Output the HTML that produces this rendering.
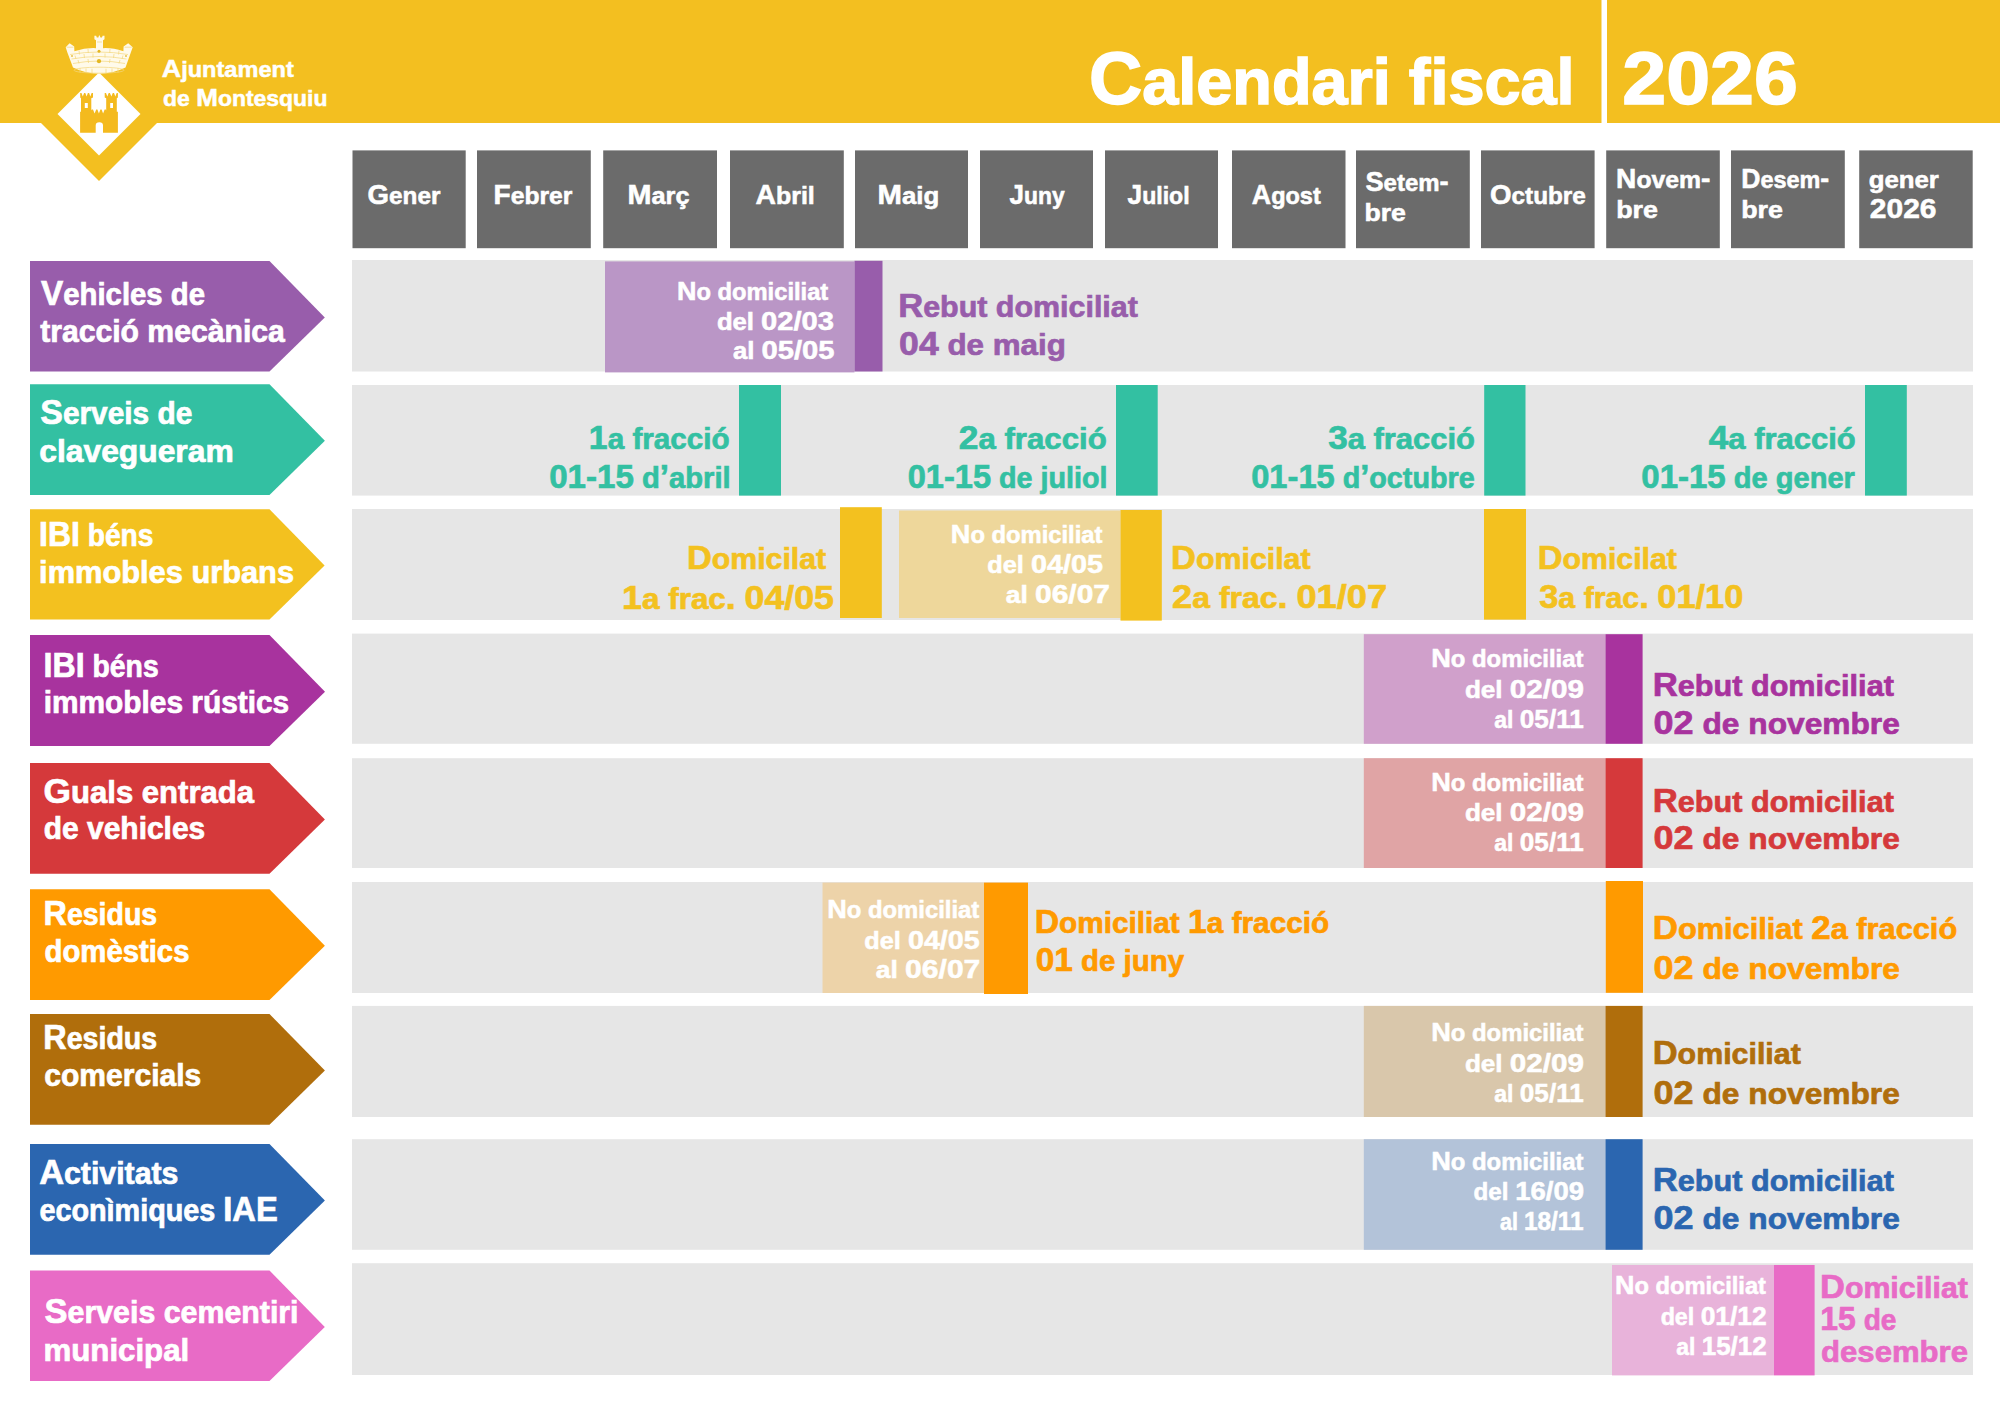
<!DOCTYPE html>
<html lang="ca"><head><meta charset="utf-8"><title>Calendari fiscal 2026 - Ajuntament de Montesquiu</title>
<style>
html,body{margin:0;padding:0;background:#fff;}
body{width:2000px;height:1414px;overflow:hidden;}
svg{display:block;}
text{font-family:"Liberation Sans",sans-serif;font-weight:bold;}
</style></head><body>
<svg width="2000" height="1414" viewBox="0 0 2000 1414">
<rect width="2000" height="1414" fill="#FFFFFF"/>
<rect x="0.0" y="0.0" width="2000.0" height="123.0" fill="#F3BF20"/>
<rect x="1601.5" y="0.0" width="5.5" height="123.0" fill="#FFFFFF"/>
<polygon points="99,47 166,114 99,181 32,114" fill="#F3BF20"/>
<polygon points="99,72.5 140.5,114 99,155.5 57.5,114" fill="#FFFFFF"/>
<path d="M80.1,132.7 L80.1,111.7 L81.0,111.7 L81.0,98.2 L80.2,97.4 L80.2,93.0 L81.5,93.0 L82.8,96.4 L84.1,93.0 L85.3,93.0 L86.6,96.4 L87.9,93.0 L89.1,93.0 L90.35,96.4 L91.6,93.0 L93.0,93.0 L93.0,97.4 L91.3,98.2 L91.3,110.5 L91.8,109.5 L93.0,109.5 L94.6,113.6 L96.2,109.5 L97.4,109.5 L98.9,113.6 L100.4,109.5 L101.6,109.5 L103.1,113.6 L104.65,109.5 L105.85,109.5 L106.2,110.5 L106.2,98.2 L104.7,97.4 L104.7,93.0 L106.0,93.0 L107.35,96.4 L108.7,93.0 L109.9,93.0 L111.35,96.4 L112.8,93.0 L114.0,93.0 L115.35,96.4 L116.7,93.0 L117.9,93.0 L117.9,97.4 L116.8,98.2 L116.8,111.7 L117.9,111.7 L117.9,132.7 L103.0,132.7 L103.0,125.5 Q103.0,122.2 99.35,122.2 Q95.7,122.2 95.7,125.5 L95.7,132.7 Z M84.8,102.9 L87.8,102.9 L87.8,108.1 L84.8,108.1 Z M110.2,102.9 L113.0,102.9 L113.0,108.1 L110.2,108.1 Z" fill="#F4BA1E" fill-rule="evenodd"/>
<path d="M65.7,47.2 L69.6,43.2 L74.2,46.6 L74.4,51.2 Q86,47.6 96,48.2 L96,40.2 L94.4,39.2 L94.4,35.8 L96.2,35.8 L96.8,37.4 L98.4,37.4 L99,35.6 L99.8,35.6 L100.4,37.4 L102,37.4 L102.6,35.8 L104.5,35.8 L104.5,39.2 L103,40.2 L103,48.2 Q112,47.6 123.4,51.2 L123.6,46.6 L128.2,43.2 L132.7,47.2 L131,52 L125.5,67.5 Q99,80 73,67.5 L67.2,52 Z" fill="#FFFAEA"/>
<g stroke="#F4D77C" stroke-width="0.7" fill="none"><path d="M70,54.5 Q99,49.5 128,54.5"/><path d="M71.5,59 Q99,54 126.5,59"/><path d="M73,63.5 Q99,58.5 125,63.5"/><ellipse cx="99" cy="70.2" rx="25" ry="3"/><path d="M79,50.5 L79.5,54.5 M88,49 L88.3,53 M110,49 L109.7,53 M119,50.5 L118.5,54.5 M75,55.5 L76,59 M84,54 L84.5,58 M93,53.5 L93,57.5 M105,53.5 L105,57.5 M114,54 L113.5,58 M123,55.5 L122,59 M78,60 L79,63.5 M88,59 L88.5,63 M110,59 L109.5,63 M120,60 L119,63.5"/><path d="M80,68 L80,72.5 M86,68.5 L86,73 M92,68.8 L92,73.2 M106,68.8 L106,73.2 M112,68.5 L112,73 M118,68 L118,72.5"/><path d="M66.5,47.2 L73.5,47.2 M97,42 L102,42 M124.5,47.2 L131.8,47.2"/></g>
<circle cx="99" cy="51.2" r="1.5" fill="#E4B722"/><circle cx="99" cy="61.2" r="2.1" fill="#E4B722"/>
<circle cx="72" cy="56" r="1" fill="#E9C24A"/><circle cx="126" cy="56" r="1" fill="#E9C24A"/>
<text x="161.83" y="76.80" fill="#FFFFFF" stroke="#FFFFFF" stroke-width="0.50" textLength="131.95" lengthAdjust="spacingAndGlyphs"><tspan font-size="24.42">A</tspan><tspan font-size="21.49">juntament</tspan></text>
<text x="163.06" y="105.80" fill="#FFFFFF" stroke="#FFFFFF" stroke-width="0.50" textLength="164.45" lengthAdjust="spacingAndGlyphs"><tspan font-size="21.49">de </tspan><tspan font-size="24.42">M</tspan><tspan font-size="21.49">ontesquiu</tspan></text>
<text x="1088.98" y="103.50" fill="#FFFFFF" stroke="#FFFFFF" stroke-width="1.53" textLength="485.61" lengthAdjust="spacingAndGlyphs"><tspan font-size="74.13">C</tspan><tspan font-size="65.23">alendari fiscal</tspan></text>
<text x="1622.26" y="103.50" fill="#FFFFFF" stroke="#FFFFFF" stroke-width="1.53" textLength="175.59" lengthAdjust="spacingAndGlyphs"><tspan font-size="74.13">2026</tspan></text>
<rect x="352.5" y="150.4" width="113.2" height="97.8" fill="#6B6B6B"/>
<rect x="477.0" y="150.4" width="113.8" height="97.8" fill="#6B6B6B"/>
<rect x="603.2" y="150.4" width="113.8" height="97.8" fill="#6B6B6B"/>
<rect x="730.0" y="150.4" width="113.8" height="97.8" fill="#6B6B6B"/>
<rect x="855.0" y="150.4" width="113.0" height="97.8" fill="#6B6B6B"/>
<rect x="980.0" y="150.4" width="113.0" height="97.8" fill="#6B6B6B"/>
<rect x="1105.0" y="150.4" width="113.0" height="97.8" fill="#6B6B6B"/>
<rect x="1232.0" y="150.4" width="113.5" height="97.8" fill="#6B6B6B"/>
<rect x="1356.0" y="150.4" width="113.8" height="97.8" fill="#6B6B6B"/>
<rect x="1481.0" y="150.4" width="113.6" height="97.8" fill="#6B6B6B"/>
<rect x="1606.2" y="150.4" width="113.6" height="97.8" fill="#6B6B6B"/>
<rect x="1731.0" y="150.4" width="113.8" height="97.8" fill="#6B6B6B"/>
<rect x="1859.2" y="150.4" width="113.5" height="97.8" fill="#6B6B6B"/>
<text x="367.62" y="203.75" fill="#FFFFFF" stroke="#FFFFFF" stroke-width="0.57" textLength="72.75" lengthAdjust="spacingAndGlyphs"><tspan font-size="27.62">G</tspan><tspan font-size="24.30">ener</tspan></text>
<text x="493.63" y="203.75" fill="#FFFFFF" stroke="#FFFFFF" stroke-width="0.57" textLength="78.75" lengthAdjust="spacingAndGlyphs"><tspan font-size="27.62">F</tspan><tspan font-size="24.30">ebrer</tspan></text>
<text x="627.58" y="203.75" fill="#FFFFFF" stroke="#FFFFFF" stroke-width="0.57" textLength="61.91" lengthAdjust="spacingAndGlyphs"><tspan font-size="27.62">M</tspan><tspan font-size="24.30">arç</tspan></text>
<text x="755.54" y="203.75" fill="#FFFFFF" stroke="#FFFFFF" stroke-width="0.57" textLength="59.22" lengthAdjust="spacingAndGlyphs"><tspan font-size="27.62">A</tspan><tspan font-size="24.30">bril</tspan></text>
<text x="877.54" y="203.75" fill="#FFFFFF" stroke="#FFFFFF" stroke-width="0.57" textLength="61.69" lengthAdjust="spacingAndGlyphs"><tspan font-size="27.62">M</tspan><tspan font-size="24.30">aig</tspan></text>
<text x="1009.61" y="203.75" fill="#FFFFFF" stroke="#FFFFFF" stroke-width="0.57" textLength="55.02" lengthAdjust="spacingAndGlyphs"><tspan font-size="27.62">J</tspan><tspan font-size="24.30">uny</tspan></text>
<text x="1127.60" y="203.75" fill="#FFFFFF" stroke="#FFFFFF" stroke-width="0.57" textLength="62.03" lengthAdjust="spacingAndGlyphs"><tspan font-size="27.62">J</tspan><tspan font-size="24.30">uliol</tspan></text>
<text x="1251.83" y="203.75" fill="#FFFFFF" stroke="#FFFFFF" stroke-width="0.57" textLength="68.95" lengthAdjust="spacingAndGlyphs"><tspan font-size="27.62">A</tspan><tspan font-size="24.30">gost</tspan></text>
<text x="1490.12" y="203.75" fill="#FFFFFF" stroke="#FFFFFF" stroke-width="0.57" textLength="95.71" lengthAdjust="spacingAndGlyphs"><tspan font-size="27.62">O</tspan><tspan font-size="24.30">ctubre</tspan></text>
<text x="1365.47" y="191.25" fill="#FFFFFF" stroke="#FFFFFF" stroke-width="0.57" textLength="83.12" lengthAdjust="spacingAndGlyphs"><tspan font-size="27.62">S</tspan><tspan font-size="24.30">etem</tspan><tspan font-size="27.62">-</tspan></text>
<text x="1364.50" y="220.75" fill="#FFFFFF" stroke="#FFFFFF" stroke-width="0.57" textLength="41.41" lengthAdjust="spacingAndGlyphs"><tspan font-size="24.30">bre</tspan></text>
<text x="1616.12" y="188.00" fill="#FFFFFF" stroke="#FFFFFF" stroke-width="0.57" textLength="94.26" lengthAdjust="spacingAndGlyphs"><tspan font-size="27.62">N</tspan><tspan font-size="24.30">ovem</tspan><tspan font-size="27.62">-</tspan></text>
<text x="1616.23" y="217.50" fill="#FFFFFF" stroke="#FFFFFF" stroke-width="0.57" textLength="41.68" lengthAdjust="spacingAndGlyphs"><tspan font-size="24.30">bre</tspan></text>
<text x="1741.22" y="188.00" fill="#FFFFFF" stroke="#FFFFFF" stroke-width="0.57" textLength="87.84" lengthAdjust="spacingAndGlyphs"><tspan font-size="27.62">D</tspan><tspan font-size="24.30">esem</tspan><tspan font-size="27.62">-</tspan></text>
<text x="1741.23" y="217.50" fill="#FFFFFF" stroke="#FFFFFF" stroke-width="0.57" textLength="41.68" lengthAdjust="spacingAndGlyphs"><tspan font-size="24.30">bre</tspan></text>
<text x="1868.74" y="188.20" fill="#FFFFFF" stroke="#FFFFFF" stroke-width="0.57" textLength="70.15" lengthAdjust="spacingAndGlyphs"><tspan font-size="24.30">gener</tspan></text>
<text x="1869.86" y="218.00" fill="#FFFFFF" stroke="#FFFFFF" stroke-width="0.57" textLength="66.62" lengthAdjust="spacingAndGlyphs"><tspan font-size="27.62">2026</tspan></text>
<rect x="352.0" y="260.0" width="1621.0" height="111.5" fill="#E6E6E6"/>
<rect x="352.0" y="385.0" width="1621.0" height="110.6" fill="#E6E6E6"/>
<rect x="352.0" y="509.0" width="1621.0" height="111.0" fill="#E6E6E6"/>
<rect x="352.0" y="633.6" width="1621.0" height="110.2" fill="#E6E6E6"/>
<rect x="352.0" y="758.2" width="1621.0" height="109.8" fill="#E6E6E6"/>
<rect x="352.0" y="882.0" width="1621.0" height="111.0" fill="#E6E6E6"/>
<rect x="352.0" y="1005.9" width="1621.0" height="111.1" fill="#E6E6E6"/>
<rect x="352.0" y="1139.2" width="1621.0" height="110.6" fill="#E6E6E6"/>
<rect x="352.0" y="1263.2" width="1621.0" height="111.8" fill="#E6E6E6"/>
<polygon points="30,261 269.5,261 324.8,317.5 269.5,371.6 30,371.6" fill="#985DAB"/>
<polygon points="30,384.3 269.5,384.3 324.9,440.8 269.5,495 30,495" fill="#33C0A2"/>
<polygon points="30,509.2 269.5,509.2 324.6,565.6 269.5,619.5 30,619.5" fill="#F3C11F"/>
<polygon points="30,635 269.5,635 325.0,691.7 269.5,746 30,746" fill="#A8339E"/>
<polygon points="30,763 269.5,763 324.9,819.6 269.5,873.8 30,873.8" fill="#D5393B"/>
<polygon points="30,889.2 269.5,889.2 324.9,945.8 269.5,1000 30,1000" fill="#FF9A00"/>
<polygon points="30,1014 269.5,1014 324.9,1070.5 269.5,1124.7 30,1124.7" fill="#B06E0C"/>
<polygon points="30,1144 269.5,1144 324.9,1200.6 269.5,1254.8 30,1254.8" fill="#2B66B0"/>
<polygon points="30,1270.4 269.5,1270.4 324.8,1326.9 269.5,1381 30,1381" fill="#E86BC6"/>
<text x="41.02" y="305.25" fill="#FFFFFF" stroke="#FFFFFF" stroke-width="0.71" textLength="163.98" lengthAdjust="spacingAndGlyphs"><tspan font-size="34.59">V</tspan><tspan font-size="30.44">ehicles de</tspan></text>
<text x="40.13" y="341.70" fill="#FFFFFF" stroke="#FFFFFF" stroke-width="0.71" textLength="244.68" lengthAdjust="spacingAndGlyphs"><tspan font-size="30.44">tracció mecànica</tspan></text>
<text x="40.27" y="423.75" fill="#FFFFFF" stroke="#FFFFFF" stroke-width="0.71" textLength="152.00" lengthAdjust="spacingAndGlyphs"><tspan font-size="34.59">S</tspan><tspan font-size="30.44">erveis de</tspan></text>
<text x="39.26" y="461.70" fill="#FFFFFF" stroke="#FFFFFF" stroke-width="0.71" textLength="194.46" lengthAdjust="spacingAndGlyphs"><tspan font-size="30.44">clavegueram</tspan></text>
<text x="39.11" y="545.75" fill="#FFFFFF" stroke="#FFFFFF" stroke-width="0.71" textLength="114.29" lengthAdjust="spacingAndGlyphs"><tspan font-size="34.59">IBI</tspan><tspan font-size="30.44"> béns</tspan></text>
<text x="39.10" y="582.80" fill="#FFFFFF" stroke="#FFFFFF" stroke-width="0.71" textLength="254.96" lengthAdjust="spacingAndGlyphs"><tspan font-size="30.44">immobles urbans</tspan></text>
<text x="43.60" y="676.70" fill="#FFFFFF" stroke="#FFFFFF" stroke-width="0.71" textLength="115.06" lengthAdjust="spacingAndGlyphs"><tspan font-size="34.59">IBI</tspan><tspan font-size="30.44"> béns</tspan></text>
<text x="43.67" y="713.00" fill="#FFFFFF" stroke="#FFFFFF" stroke-width="0.71" textLength="245.56" lengthAdjust="spacingAndGlyphs"><tspan font-size="30.44">immobles rústics</tspan></text>
<text x="43.55" y="802.70" fill="#FFFFFF" stroke="#FFFFFF" stroke-width="0.71" textLength="210.50" lengthAdjust="spacingAndGlyphs"><tspan font-size="34.59">G</tspan><tspan font-size="30.44">uals entrada</tspan></text>
<text x="43.77" y="839.30" fill="#FFFFFF" stroke="#FFFFFF" stroke-width="0.71" textLength="161.46" lengthAdjust="spacingAndGlyphs"><tspan font-size="30.44">de vehicles</tspan></text>
<text x="43.59" y="925.25" fill="#FFFFFF" stroke="#FFFFFF" stroke-width="0.71" textLength="113.58" lengthAdjust="spacingAndGlyphs"><tspan font-size="34.59">R</tspan><tspan font-size="30.44">esidus</tspan></text>
<text x="44.55" y="962.30" fill="#FFFFFF" stroke="#FFFFFF" stroke-width="0.71" textLength="144.90" lengthAdjust="spacingAndGlyphs"><tspan font-size="30.44">domèstics</tspan></text>
<text x="43.33" y="1049.00" fill="#FFFFFF" stroke="#FFFFFF" stroke-width="0.71" textLength="113.84" lengthAdjust="spacingAndGlyphs"><tspan font-size="34.59">R</tspan><tspan font-size="30.44">esidus</tspan></text>
<text x="44.33" y="1085.60" fill="#FFFFFF" stroke="#FFFFFF" stroke-width="0.71" textLength="156.90" lengthAdjust="spacingAndGlyphs"><tspan font-size="30.44">comercials</tspan></text>
<text x="39.14" y="1183.70" fill="#FFFFFF" stroke="#FFFFFF" stroke-width="0.71" textLength="139.30" lengthAdjust="spacingAndGlyphs"><tspan font-size="34.59">A</tspan><tspan font-size="30.44">ctivitats</tspan></text>
<text x="39.48" y="1220.70" fill="#FFFFFF" stroke="#FFFFFF" stroke-width="0.71" textLength="238.30" lengthAdjust="spacingAndGlyphs"><tspan font-size="30.44">econìmiques </tspan><tspan font-size="34.59">IAE</tspan></text>
<text x="44.61" y="1323.00" fill="#FFFFFF" stroke="#FFFFFF" stroke-width="0.71" textLength="253.94" lengthAdjust="spacingAndGlyphs"><tspan font-size="34.59">S</tspan><tspan font-size="30.44">erveis cementiri</tspan></text>
<text x="43.54" y="1361.00" fill="#FFFFFF" stroke="#FFFFFF" stroke-width="0.71" textLength="145.67" lengthAdjust="spacingAndGlyphs"><tspan font-size="30.44">municipal</tspan></text>
<rect x="605.0" y="261.4" width="249.5" height="111.0" fill="#BA96C6"/>
<rect x="854.5" y="260.8" width="28.0" height="110.7" fill="#985DAB"/>
<text x="676.95" y="300.00" fill="#FFFFFF" stroke="#FFFFFF" stroke-width="0.54" textLength="151.34" lengthAdjust="spacingAndGlyphs"><tspan font-size="26.16">N</tspan><tspan font-size="23.02">o domiciliat</tspan></text>
<text x="716.95" y="330.00" fill="#FFFFFF" stroke="#FFFFFF" stroke-width="0.54" textLength="117.10" lengthAdjust="spacingAndGlyphs"><tspan font-size="23.02">del </tspan><tspan font-size="26.16">02/03</tspan></text>
<text x="733.00" y="358.75" fill="#FFFFFF" stroke="#FFFFFF" stroke-width="0.54" textLength="101.56" lengthAdjust="spacingAndGlyphs"><tspan font-size="23.02">al </tspan><tspan font-size="26.16">05/05</tspan></text>
<text x="898.19" y="317.00" fill="#985DAB" stroke="#985DAB" stroke-width="0.68" textLength="239.68" lengthAdjust="spacingAndGlyphs"><tspan font-size="33.14">R</tspan><tspan font-size="29.16">ebut domiciliat</tspan></text>
<text x="899.09" y="354.50" fill="#985DAB" stroke="#985DAB" stroke-width="0.68" textLength="166.76" lengthAdjust="spacingAndGlyphs"><tspan font-size="33.14">04</tspan><tspan font-size="29.16"> de maig</tspan></text>
<rect x="739.0" y="385.0" width="42.0" height="110.6" fill="#33C0A2"/>
<rect x="1116.0" y="385.0" width="41.7" height="110.6" fill="#33C0A2"/>
<rect x="1484.2" y="385.0" width="41.3" height="110.6" fill="#33C0A2"/>
<rect x="1865.0" y="385.0" width="41.8" height="110.6" fill="#33C0A2"/>
<text x="588.87" y="448.60" fill="#33C0A2" stroke="#33C0A2" stroke-width="0.68" textLength="140.88" lengthAdjust="spacingAndGlyphs"><tspan font-size="33.14">1</tspan><tspan font-size="29.16">a fracció</tspan></text>
<text x="549.19" y="488.00" fill="#33C0A2" stroke="#33C0A2" stroke-width="0.68" textLength="181.48" lengthAdjust="spacingAndGlyphs"><tspan font-size="33.14">01-15</tspan><tspan font-size="29.16"> d</tspan><tspan font-size="33.14">’</tspan><tspan font-size="29.16">abril</tspan></text>
<text x="958.77" y="448.60" fill="#33C0A2" stroke="#33C0A2" stroke-width="0.68" textLength="147.95" lengthAdjust="spacingAndGlyphs"><tspan font-size="33.14">2</tspan><tspan font-size="29.16">a fracció</tspan></text>
<text x="907.71" y="488.00" fill="#33C0A2" stroke="#33C0A2" stroke-width="0.68" textLength="199.82" lengthAdjust="spacingAndGlyphs"><tspan font-size="33.14">01-15</tspan><tspan font-size="29.16"> de juliol</tspan></text>
<text x="1328.19" y="448.60" fill="#33C0A2" stroke="#33C0A2" stroke-width="0.68" textLength="146.71" lengthAdjust="spacingAndGlyphs"><tspan font-size="33.14">3</tspan><tspan font-size="29.16">a fracció</tspan></text>
<text x="1251.21" y="488.00" fill="#33C0A2" stroke="#33C0A2" stroke-width="0.68" textLength="223.47" lengthAdjust="spacingAndGlyphs"><tspan font-size="33.14">01-15</tspan><tspan font-size="29.16"> d</tspan><tspan font-size="33.14">’</tspan><tspan font-size="29.16">octubre</tspan></text>
<text x="1708.77" y="448.60" fill="#33C0A2" stroke="#33C0A2" stroke-width="0.68" textLength="146.94" lengthAdjust="spacingAndGlyphs"><tspan font-size="33.14">4</tspan><tspan font-size="29.16">a fracció</tspan></text>
<text x="1641.29" y="488.00" fill="#33C0A2" stroke="#33C0A2" stroke-width="0.68" textLength="213.65" lengthAdjust="spacingAndGlyphs"><tspan font-size="33.14">01-15</tspan><tspan font-size="29.16"> de gener</tspan></text>
<rect x="840.0" y="507.2" width="41.8" height="110.8" fill="#F3C11F"/>
<rect x="899.0" y="510.5" width="221.5" height="107.5" fill="#EED79B"/>
<rect x="1120.5" y="510.0" width="41.3" height="110.6" fill="#F3C11F"/>
<rect x="1484.0" y="509.0" width="42.0" height="110.6" fill="#F3C11F"/>
<text x="687.00" y="569.00" fill="#F3C11F" stroke="#F3C11F" stroke-width="0.68" textLength="139.17" lengthAdjust="spacingAndGlyphs"><tspan font-size="33.14">D</tspan><tspan font-size="29.16">omicilat</tspan></text>
<text x="622.05" y="608.60" fill="#F3C11F" stroke="#F3C11F" stroke-width="0.68" textLength="211.95" lengthAdjust="spacingAndGlyphs"><tspan font-size="33.14">1</tspan><tspan font-size="29.16">a frac</tspan><tspan font-size="33.14">.</tspan><tspan font-size="29.16"> </tspan><tspan font-size="33.14">04/05</tspan></text>
<text x="950.89" y="543.00" fill="#FFFFFF" stroke="#FFFFFF" stroke-width="0.54" textLength="151.60" lengthAdjust="spacingAndGlyphs"><tspan font-size="26.16">N</tspan><tspan font-size="23.02">o domiciliat</tspan></text>
<text x="987.26" y="572.70" fill="#FFFFFF" stroke="#FFFFFF" stroke-width="0.54" textLength="115.74" lengthAdjust="spacingAndGlyphs"><tspan font-size="23.02">del </tspan><tspan font-size="26.16">04/05</tspan></text>
<text x="1005.73" y="602.90" fill="#FFFFFF" stroke="#FFFFFF" stroke-width="0.54" textLength="104.29" lengthAdjust="spacingAndGlyphs"><tspan font-size="23.02">al </tspan><tspan font-size="26.16">06/07</tspan></text>
<text x="1171.09" y="569.00" fill="#F3C11F" stroke="#F3C11F" stroke-width="0.68" textLength="139.48" lengthAdjust="spacingAndGlyphs"><tspan font-size="33.14">D</tspan><tspan font-size="29.16">omicilat</tspan></text>
<text x="1172.14" y="608.20" fill="#F3C11F" stroke="#F3C11F" stroke-width="0.68" textLength="215.05" lengthAdjust="spacingAndGlyphs"><tspan font-size="33.14">2</tspan><tspan font-size="29.16">a frac</tspan><tspan font-size="33.14">.</tspan><tspan font-size="29.16"> </tspan><tspan font-size="33.14">01/07</tspan></text>
<text x="1537.70" y="569.00" fill="#F3C11F" stroke="#F3C11F" stroke-width="0.68" textLength="139.17" lengthAdjust="spacingAndGlyphs"><tspan font-size="33.14">D</tspan><tspan font-size="29.16">omicilat</tspan></text>
<text x="1539.21" y="608.20" fill="#F3C11F" stroke="#F3C11F" stroke-width="0.68" textLength="204.20" lengthAdjust="spacingAndGlyphs"><tspan font-size="33.14">3</tspan><tspan font-size="29.16">a frac</tspan><tspan font-size="33.14">.</tspan><tspan font-size="29.16"> </tspan><tspan font-size="33.14">01/10</tspan></text>
<rect x="1363.8" y="634.2" width="241.7" height="109.6" fill="#D0A0CB"/>
<rect x="1605.5" y="634.2" width="37.1" height="109.6" fill="#A8339E"/>
<text x="1431.18" y="667.20" fill="#FFFFFF" stroke="#FFFFFF" stroke-width="0.54" textLength="152.31" lengthAdjust="spacingAndGlyphs"><tspan font-size="26.16">N</tspan><tspan font-size="23.02">o domiciliat</tspan></text>
<text x="1464.93" y="697.60" fill="#FFFFFF" stroke="#FFFFFF" stroke-width="0.54" textLength="119.17" lengthAdjust="spacingAndGlyphs"><tspan font-size="23.02">del </tspan><tspan font-size="26.16">02/09</tspan></text>
<text x="1494.34" y="728.00" fill="#FFFFFF" stroke="#FFFFFF" stroke-width="0.54" textLength="89.38" lengthAdjust="spacingAndGlyphs"><tspan font-size="23.02">al </tspan><tspan font-size="26.16">05/11</tspan></text>
<text x="1652.67" y="696.00" fill="#A8339E" stroke="#A8339E" stroke-width="0.68" textLength="241.20" lengthAdjust="spacingAndGlyphs"><tspan font-size="33.14">R</tspan><tspan font-size="29.16">ebut domiciliat</tspan></text>
<text x="1653.58" y="734.00" fill="#A8339E" stroke="#A8339E" stroke-width="0.68" textLength="246.21" lengthAdjust="spacingAndGlyphs"><tspan font-size="33.14">02</tspan><tspan font-size="29.16"> de novembre</tspan></text>
<rect x="1363.8" y="758.2" width="241.7" height="109.8" fill="#E0A4A5"/>
<rect x="1605.5" y="758.2" width="37.1" height="109.8" fill="#D5393B"/>
<text x="1431.18" y="790.60" fill="#FFFFFF" stroke="#FFFFFF" stroke-width="0.54" textLength="152.31" lengthAdjust="spacingAndGlyphs"><tspan font-size="26.16">N</tspan><tspan font-size="23.02">o domiciliat</tspan></text>
<text x="1464.93" y="821.00" fill="#FFFFFF" stroke="#FFFFFF" stroke-width="0.54" textLength="119.17" lengthAdjust="spacingAndGlyphs"><tspan font-size="23.02">del </tspan><tspan font-size="26.16">02/09</tspan></text>
<text x="1494.34" y="850.60" fill="#FFFFFF" stroke="#FFFFFF" stroke-width="0.54" textLength="89.38" lengthAdjust="spacingAndGlyphs"><tspan font-size="23.02">al </tspan><tspan font-size="26.16">05/11</tspan></text>
<text x="1652.67" y="812.00" fill="#D5393B" stroke="#D5393B" stroke-width="0.68" textLength="241.20" lengthAdjust="spacingAndGlyphs"><tspan font-size="33.14">R</tspan><tspan font-size="29.16">ebut domiciliat</tspan></text>
<text x="1653.58" y="849.00" fill="#D5393B" stroke="#D5393B" stroke-width="0.68" textLength="246.21" lengthAdjust="spacingAndGlyphs"><tspan font-size="33.14">02</tspan><tspan font-size="29.16"> de novembre</tspan></text>
<rect x="822.5" y="882.6" width="161.5" height="110.4" fill="#EDD3A9"/>
<rect x="984.0" y="882.6" width="44.0" height="111.4" fill="#FF9A00"/>
<text x="827.19" y="918.00" fill="#FFFFFF" stroke="#FFFFFF" stroke-width="0.54" textLength="152.10" lengthAdjust="spacingAndGlyphs"><tspan font-size="26.16">N</tspan><tspan font-size="23.02">o domiciliat</tspan></text>
<text x="864.36" y="948.60" fill="#FFFFFF" stroke="#FFFFFF" stroke-width="0.54" textLength="115.44" lengthAdjust="spacingAndGlyphs"><tspan font-size="23.02">del </tspan><tspan font-size="26.16">04/05</tspan></text>
<text x="875.73" y="978.00" fill="#FFFFFF" stroke="#FFFFFF" stroke-width="0.54" textLength="104.60" lengthAdjust="spacingAndGlyphs"><tspan font-size="23.02">al </tspan><tspan font-size="26.16">06/07</tspan></text>
<text x="1034.74" y="933.00" fill="#FF9A00" stroke="#FF9A00" stroke-width="0.68" textLength="294.42" lengthAdjust="spacingAndGlyphs"><tspan font-size="33.14">D</tspan><tspan font-size="29.16">omiciliat </tspan><tspan font-size="33.14">1</tspan><tspan font-size="29.16">a fracció</tspan></text>
<text x="1035.68" y="970.50" fill="#FF9A00" stroke="#FF9A00" stroke-width="0.68" textLength="148.48" lengthAdjust="spacingAndGlyphs"><tspan font-size="33.14">01</tspan><tspan font-size="29.16"> de juny</tspan></text>
<rect x="1605.8" y="881.0" width="37.2" height="111.8" fill="#FF9A00"/>
<text x="1652.66" y="939.30" fill="#FF9A00" stroke="#FF9A00" stroke-width="0.68" textLength="304.54" lengthAdjust="spacingAndGlyphs"><tspan font-size="33.14">D</tspan><tspan font-size="29.16">omiciliat </tspan><tspan font-size="33.14">2</tspan><tspan font-size="29.16">a fracció</tspan></text>
<text x="1653.57" y="979.00" fill="#FF9A00" stroke="#FF9A00" stroke-width="0.68" textLength="246.31" lengthAdjust="spacingAndGlyphs"><tspan font-size="33.14">02</tspan><tspan font-size="29.16"> de novembre</tspan></text>
<rect x="1363.8" y="1005.9" width="241.7" height="111.1" fill="#D9C7AB"/>
<rect x="1605.5" y="1005.9" width="37.1" height="111.1" fill="#B06E0C"/>
<text x="1431.18" y="1041.20" fill="#FFFFFF" stroke="#FFFFFF" stroke-width="0.54" textLength="152.31" lengthAdjust="spacingAndGlyphs"><tspan font-size="26.16">N</tspan><tspan font-size="23.02">o domiciliat</tspan></text>
<text x="1464.93" y="1072.00" fill="#FFFFFF" stroke="#FFFFFF" stroke-width="0.54" textLength="119.17" lengthAdjust="spacingAndGlyphs"><tspan font-size="23.02">del </tspan><tspan font-size="26.16">02/09</tspan></text>
<text x="1494.34" y="1102.00" fill="#FFFFFF" stroke="#FFFFFF" stroke-width="0.54" textLength="89.38" lengthAdjust="spacingAndGlyphs"><tspan font-size="23.02">al </tspan><tspan font-size="26.16">05/11</tspan></text>
<text x="1652.69" y="1064.30" fill="#B06E0C" stroke="#B06E0C" stroke-width="0.68" textLength="148.08" lengthAdjust="spacingAndGlyphs"><tspan font-size="33.14">D</tspan><tspan font-size="29.16">omiciliat</tspan></text>
<text x="1653.58" y="1104.00" fill="#B06E0C" stroke="#B06E0C" stroke-width="0.68" textLength="246.21" lengthAdjust="spacingAndGlyphs"><tspan font-size="33.14">02</tspan><tspan font-size="29.16"> de novembre</tspan></text>
<rect x="1363.8" y="1139.2" width="241.7" height="110.6" fill="#B3C3D9"/>
<rect x="1605.5" y="1139.2" width="37.1" height="110.6" fill="#2B66B0"/>
<text x="1431.18" y="1169.60" fill="#FFFFFF" stroke="#FFFFFF" stroke-width="0.54" textLength="152.31" lengthAdjust="spacingAndGlyphs"><tspan font-size="26.16">N</tspan><tspan font-size="23.02">o domiciliat</tspan></text>
<text x="1473.61" y="1200.00" fill="#FFFFFF" stroke="#FFFFFF" stroke-width="0.54" textLength="110.41" lengthAdjust="spacingAndGlyphs"><tspan font-size="23.02">del </tspan><tspan font-size="26.16">16/09</tspan></text>
<text x="1500.08" y="1230.00" fill="#FFFFFF" stroke="#FFFFFF" stroke-width="0.54" textLength="83.59" lengthAdjust="spacingAndGlyphs"><tspan font-size="23.02">al </tspan><tspan font-size="26.16">18/11</tspan></text>
<text x="1652.67" y="1191.00" fill="#2B66B0" stroke="#2B66B0" stroke-width="0.68" textLength="241.20" lengthAdjust="spacingAndGlyphs"><tspan font-size="33.14">R</tspan><tspan font-size="29.16">ebut domiciliat</tspan></text>
<text x="1653.58" y="1229.00" fill="#2B66B0" stroke="#2B66B0" stroke-width="0.68" textLength="246.21" lengthAdjust="spacingAndGlyphs"><tspan font-size="33.14">02</tspan><tspan font-size="29.16"> de novembre</tspan></text>
<rect x="1612.0" y="1265.0" width="162.0" height="110.4" fill="#E8B3DA"/>
<rect x="1774.0" y="1265.0" width="40.6" height="110.4" fill="#E86BC6"/>
<text x="1615.00" y="1293.60" fill="#FFFFFF" stroke="#FFFFFF" stroke-width="0.54" textLength="150.99" lengthAdjust="spacingAndGlyphs"><tspan font-size="26.16">N</tspan><tspan font-size="23.02">o domiciliat</tspan></text>
<text x="1660.65" y="1324.80" fill="#FFFFFF" stroke="#FFFFFF" stroke-width="0.54" textLength="106.11" lengthAdjust="spacingAndGlyphs"><tspan font-size="23.02">del </tspan><tspan font-size="26.16">01/12</tspan></text>
<text x="1676.33" y="1355.20" fill="#FFFFFF" stroke="#FFFFFF" stroke-width="0.54" textLength="90.41" lengthAdjust="spacingAndGlyphs"><tspan font-size="23.02">al </tspan><tspan font-size="26.16">15/12</tspan></text>
<text x="1820.00" y="1298.40" fill="#E86BC6" stroke="#E86BC6" stroke-width="0.68" textLength="147.87" lengthAdjust="spacingAndGlyphs"><tspan font-size="33.14">D</tspan><tspan font-size="29.16">omiciliat</tspan></text>
<text x="1820.29" y="1330.30" fill="#E86BC6" stroke="#E86BC6" stroke-width="0.68" textLength="76.17" lengthAdjust="spacingAndGlyphs"><tspan font-size="33.14">15</tspan><tspan font-size="29.16"> de</tspan></text>
<text x="1821.02" y="1362.20" fill="#E86BC6" stroke="#E86BC6" stroke-width="0.68" textLength="147.04" lengthAdjust="spacingAndGlyphs"><tspan font-size="29.16">desembre</tspan></text>
</svg>
</body></html>
